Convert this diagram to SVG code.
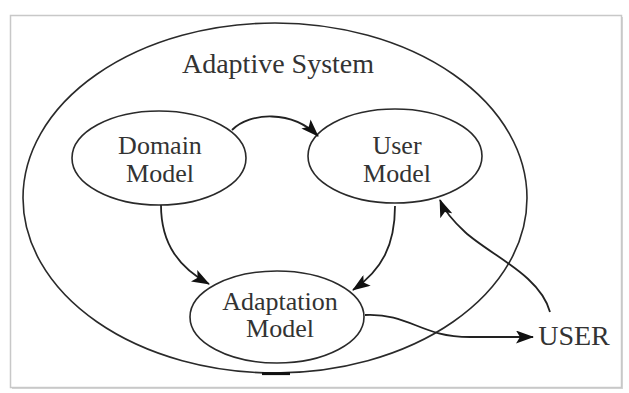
<svg xmlns="http://www.w3.org/2000/svg" width="629" height="393" viewBox="0 0 629 393">
<style>
.shape{fill:none;stroke:#2a2a2a;stroke-width:1.6}
.node{fill:#fff;stroke:#2a2a2a;stroke-width:1.6}
.edge{fill:none;stroke:#222;stroke-width:1.8}
</style>
<defs>
<marker id="arr" viewBox="0 0 18 13" refX="17" refY="6.5" markerWidth="18" markerHeight="13" markerUnits="userSpaceOnUse" orient="auto">
<path d="M0,0 L18,6.5 L0,13 L4,6.5 z" fill="#111"/>
</marker>
</defs>
<rect x="0" y="0" width="629" height="393" fill="#fff"/>
<rect x="12" y="17" width="611" height="372" fill="#d6d6d6"/>
<rect x="10.5" y="15.5" width="611" height="372" fill="#fff" stroke="#c8c8c8" stroke-width="1.5"/>
<g id="system">
<ellipse class="shape" cx="275" cy="198" rx="252" ry="175"/>
<path d="M262,373.6 L290,373.6" stroke="#111" stroke-width="3" fill="none"/>
<text x="278" y="73" style="font-family:'Liberation Serif',serif;font-size:28px;fill:#333;text-anchor:middle">Adaptive System</text>
</g>
<g id="domain">
<ellipse class="node" cx="159" cy="158" rx="87" ry="47"/>
<text x="160" y="154" style="font-family:'Liberation Serif',serif;font-size:26px;fill:#333;text-anchor:middle">Domain</text>
<text x="160" y="182" style="font-family:'Liberation Serif',serif;font-size:26px;fill:#333;text-anchor:middle">Model</text>
</g>
<g id="user-model">
<ellipse class="node" cx="395" cy="156" rx="87" ry="47"/>
<text x="397" y="154" style="font-family:'Liberation Serif',serif;font-size:26px;fill:#333;text-anchor:middle">User</text>
<text x="397" y="182" style="font-family:'Liberation Serif',serif;font-size:26px;fill:#333;text-anchor:middle">Model</text>
</g>
<g id="adaptation">
<ellipse class="node" cx="277" cy="317" rx="87" ry="46"/>
<text x="280" y="310" style="font-family:'Liberation Serif',serif;font-size:26px;fill:#333;text-anchor:middle">Adaptation</text>
<text x="280" y="337" style="font-family:'Liberation Serif',serif;font-size:26px;fill:#333;text-anchor:middle">Model</text>
</g>
<g id="user">
<text x="574" y="345" style="font-family:'Liberation Serif',serif;font-size:28px;fill:#333;text-anchor:middle">USER</text>
</g>
<g id="connectors">
<path class="edge" d="M232,130 C250,112 292,110 318,136" marker-end="url(#arr)"/>
<path class="edge" d="M161,205 C161,245 180,268 209,284" marker-end="url(#arr)"/>
<path class="edge" d="M395,206 C395,245 382,270 353,290" marker-end="url(#arr)"/>
<path class="edge" d="M550,312 C540,275 490,255 465,232 C452,220 444,210 440,200" marker-end="url(#arr)"/>
<path class="edge" d="M365,315 C410,313 420,337 470,337 L533,337" marker-end="url(#arr)"/>
</g>
</svg>
